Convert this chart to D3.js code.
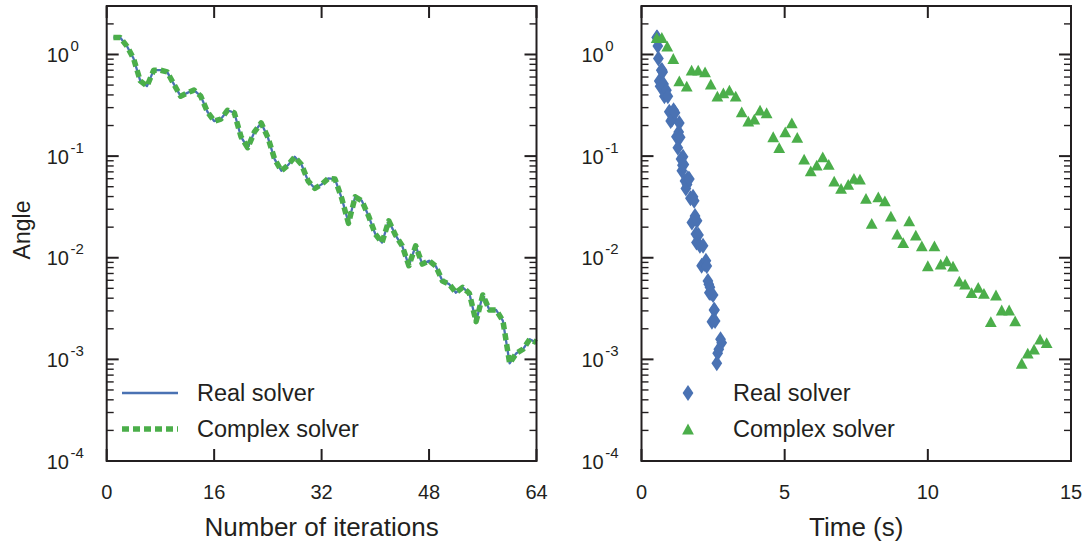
<!DOCTYPE html>
<html>
<head>
<meta charset="utf-8">
<script src="https://cdn.jsdelivr.net/npm/d3@7"></script>
<style>
  body { margin: 0; background: #fff; }
  text { font-family: "Liberation Sans", Arial, Helvetica, sans-serif; fill: #231f20; }
</style>
</head>
<body>
<div id="chart"></div>
<script>
// Data, one value per iteration (1..64)
const iterations = d3.range(1, 65);

const realAngle = [1.47, 1.47, 1.21, 0.913, 0.550, 0.488, 0.701, 0.701, 0.674, 0.511,
  0.389, 0.419, 0.446, 0.389, 0.273, 0.221, 0.231, 0.283, 0.267, 0.155,
  0.121, 0.173, 0.212, 0.153, 0.0935, 0.0717, 0.0815, 0.0985, 0.0828, 0.0568,
  0.0481, 0.0527, 0.0604, 0.0594, 0.0384, 0.0222, 0.0398, 0.0363, 0.0257, 0.0171,
  0.0141, 0.0231, 0.0167, 0.0131, 0.00834, 0.0131, 0.00867, 0.00934, 0.00828, 0.0059,
  0.0055, 0.00453, 0.00512, 0.00447, 0.00235, 0.0043, 0.00306, 0.00306, 0.00239, 0.000916,
  0.00115, 0.00126, 0.00158, 0.00146];

const complexAngle = [1.47, 1.47, 1.21, 0.913, 0.550, 0.488, 0.701, 0.701, 0.674, 0.511,
  0.389, 0.419, 0.446, 0.389, 0.273, 0.221, 0.231, 0.283, 0.267, 0.155,
  0.121, 0.173, 0.212, 0.153, 0.0935, 0.0717, 0.0815, 0.0985, 0.0828, 0.0568,
  0.0481, 0.0527, 0.0604, 0.0594, 0.0384, 0.0218, 0.0398, 0.0363, 0.0257, 0.0171,
  0.0141, 0.0231, 0.0167, 0.0131, 0.00834, 0.0131, 0.00867, 0.00934, 0.00828, 0.0059,
  0.0055, 0.00453, 0.00512, 0.00447, 0.00235, 0.0043, 0.00306, 0.00306, 0.00239, 0.000916,
  0.00115, 0.00126, 0.00158, 0.00146];

// Wall-clock time (s) at each iteration
const realTime = [0.53, 0.55, 0.57, 0.59, 0.62, 0.65, 0.69, 0.72, 0.74, 0.77,
  0.80, 0.82, 0.87, 0.92, 0.97, 1.02, 1.07, 1.12, 1.17, 1.22,
  1.27, 1.30, 1.32, 1.35, 1.38, 1.41, 1.43, 1.45, 1.48, 1.52,
  1.55, 1.59, 1.62, 1.67, 1.71, 1.76, 1.80, 1.84, 1.87, 1.90,
  1.92, 1.94, 1.99, 2.04, 2.10, 2.15, 2.21, 2.25, 2.28, 2.32,
  2.35, 2.37, 2.39, 2.43, 2.46, 2.50, 2.53, 2.55, 2.57, 2.63,
  2.66, 2.70, 2.76, 2.80];

const complexTime = [0.53, 0.71, 0.90, 1.11, 1.32, 1.58, 1.75, 1.98, 2.22, 2.42,
  2.65, 2.86, 3.07, 3.29, 3.50, 3.73, 3.94, 4.14, 4.37, 4.60,
  4.81, 5.02, 5.25, 5.44, 5.68, 5.91, 6.12, 6.33, 6.54, 6.73,
  6.97, 7.22, 7.42, 7.63, 7.84, 8.04, 8.27, 8.50, 8.71, 8.93,
  9.14, 9.35, 9.58, 9.79, 10.00, 10.23, 10.45, 10.66, 10.88, 11.10,
  11.30, 11.53, 11.76, 11.96, 12.20, 12.38, 12.58, 12.84, 13.05, 13.28,
  13.49, 13.71, 13.92, 14.15];

const iterTicks = [0, 16, 32, 48, 64];
const timeTicks = [0, 5, 10, 15];
const angleExponents = [0, -1, -2, -3, -4];
const seriesNames = ['Real solver', 'Complex solver'];

const blue = '#4a72b3';
const green = '#4bae4a';
const ink = '#231f20';

const svg = d3.select('#chart').append('svg')
  .attr('width', 1086)
  .attr('height', 543);

const plotTop = 6, plotBottom = 461;
const y = d3.scaleLog().domain([1e-4, 3]).range([plotBottom, plotTop]);
const xLeft = d3.scaleLinear().domain([0, 64]).range([106.7, 536.5]);
const xRight = d3.scaleLinear().domain([0, 15]).range([641.5, 1071]);

const majorY = angleExponents.map(e => Math.pow(10, e));
const minorY = [];
for (let e = -4; e <= 0; e++) {
  for (let k = 2; k <= 9; k++) {
    const v = k * Math.pow(10, e);
    if (v < 2.9) minorY.push(v);
  }
}

// Draw the box, inward ticks on all four sides and the tick labels
function drawFrame(x, xTicks) {
  const [x0, x1] = x.range();
  const g = svg.append('g');

  const tick = (values, len, width) => {
    values.forEach(v => {
      const py = y(v);
      g.append('line').attr('x1', x0).attr('x2', x0 + len).attr('y1', py).attr('y2', py)
        .attr('stroke', ink).attr('stroke-width', width);
      g.append('line').attr('x1', x1).attr('x2', x1 - len).attr('y1', py).attr('y2', py)
        .attr('stroke', ink).attr('stroke-width', width);
    });
  };
  tick(majorY, 12, 2);
  tick(minorY, 7, 1.4);

  xTicks.forEach(v => {
    const px = x(v);
    g.append('line').attr('x1', px).attr('x2', px).attr('y1', plotBottom).attr('y2', plotBottom - 12)
      .attr('stroke', ink).attr('stroke-width', 2);
    g.append('line').attr('x1', px).attr('x2', px).attr('y1', plotTop).attr('y2', plotTop + 12)
      .attr('stroke', ink).attr('stroke-width', 2);
    g.append('text').attr('x', px).attr('y', 499)
      .attr('text-anchor', 'middle').attr('font-size', 20)
      .text(v);
  });

  angleExponents.forEach(e => {
    const t = g.append('text')
      .attr('x', x0 - 60)
      .attr('y', y(Math.pow(10, e)) + 7.5)
      .attr('font-size', 20);
    t.append('tspan').text('10');
    t.append('tspan').attr('dx', 1.5).attr('dy', -11).attr('font-size', 15).text(e);
  });

  g.append('rect')
    .attr('x', x0).attr('y', plotTop)
    .attr('width', x1 - x0).attr('height', plotBottom - plotTop)
    .attr('fill', 'none').attr('stroke', ink).attr('stroke-width', 2);
  return g;
}

// Left panel: angle vs iterations
const plotL = svg.append('g');
const iterLine = d3.line().x((d, i) => xLeft(iterations[i])).y(d => y(d));
plotL.append('path').datum(realAngle)
  .attr('d', iterLine)
  .attr('fill', 'none').attr('stroke', blue).attr('stroke-width', 2.3)
  .attr('stroke-linejoin', 'round');
plotL.append('path').datum(complexAngle)
  .attr('d', iterLine)
  .attr('fill', 'none').attr('stroke', green).attr('stroke-width', 5.5)
  .attr('stroke-linejoin', 'round')
  .attr('stroke-dasharray', '7,4');
drawFrame(xLeft, iterTicks);

// Right panel: angle vs wall-clock time
const diamond = 'M0,-8L5.4,0L0,8L-5.4,0Z';
const triangle = 'M0,-5.4L5.9,5.4L-5.9,5.4Z';
const plotR = svg.append('g');
plotR.selectAll('.real')
  .data(realAngle)
  .enter().append('path')
  .attr('class', 'real')
  .attr('d', diamond)
  .attr('transform', (d, i) => `translate(${xRight(realTime[i])},${y(d)})`)
  .attr('fill', blue);
plotR.selectAll('.complex')
  .data(complexAngle)
  .enter().append('path')
  .attr('class', 'complex')
  .attr('d', triangle)
  .attr('transform', (d, i) => `translate(${xRight(complexTime[i])},${y(d)})`)
  .attr('fill', green);
drawFrame(xRight, timeTicks);

// Legends
const legY = [393, 429];
svg.append('line').attr('x1', 122).attr('x2', 178).attr('y1', legY[0]).attr('y2', legY[0])
  .attr('stroke', blue).attr('stroke-width', 2.3);
svg.append('line').attr('x1', 122).attr('x2', 178).attr('y1', legY[1]).attr('y2', legY[1])
  .attr('stroke', green).attr('stroke-width', 5.5).attr('stroke-dasharray', '7,4');
svg.append('path').attr('d', diamond).attr('fill', blue)
  .attr('transform', `translate(688,${legY[0]})`);
svg.append('path').attr('d', triangle).attr('fill', green)
  .attr('transform', `translate(688,${legY[1]})`);
seriesNames.forEach((name, i) => {
  svg.append('text').attr('x', 197).attr('y', legY[i] + 8).attr('font-size', 23.5).text(name);
  svg.append('text').attr('x', 733).attr('y', legY[i] + 8).attr('font-size', 23.5).text(name);
});

// Axis titles
svg.append('text').attr('x', xLeft(32)).attr('y', 536)
  .attr('text-anchor', 'middle').attr('font-size', 26).text('Number of iterations');
svg.append('text').attr('x', xRight(7.5)).attr('y', 536)
  .attr('text-anchor', 'middle').attr('font-size', 26).text('Time (s)');
svg.append('text')
  .attr('transform', 'translate(30,230) rotate(-90)')
  .attr('text-anchor', 'middle').attr('font-size', 23).text('Angle');
</script>
</body>
</html>
